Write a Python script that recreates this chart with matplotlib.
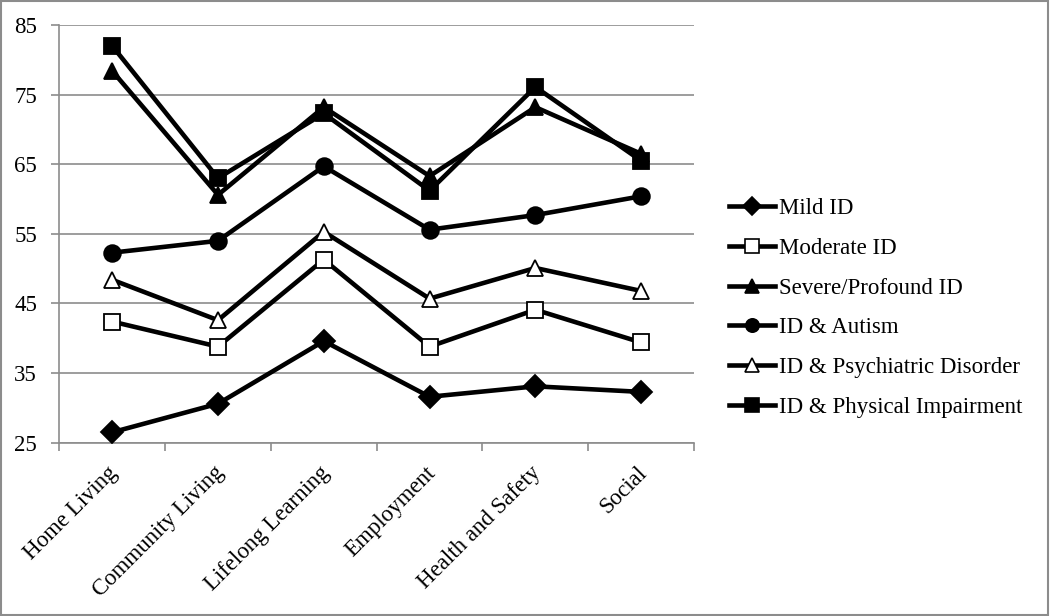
import matplotlib
matplotlib.use("Agg")
import matplotlib.pyplot as plt
from matplotlib.patches import Rectangle
import matplotlib.transforms as mtransforms

categories = ["Home Living", "Community Living", "Lifelong Learning", "Employment", "Health and Safety", "Social"]
mild_id = [26.5, 30.6, 39.6, 31.6, 33.1, 32.3]
moderate_id = [42.4, 38.8, 51.3, 38.8, 44.1, 39.4]
severe_profound_id = [78.4, 60.6, 73.2, 63.3, 73.2, 66.5]
id_autism = [52.3, 54.0, 64.7, 55.6, 57.7, 60.4]
id_psychiatric = [48.4, 42.6, 55.3, 45.7, 50.1, 46.8]
id_physical = [82.0, 63.0, 72.3, 61.2, 76.1, 65.5]
y_ticks = [25, 35, 45, 55, 65, 75, 85]

series = [
    ("Mild ID", mild_id, "D", "black"),
    ("Moderate ID", moderate_id, "s", "white"),
    ("Severe/Profound ID", severe_profound_id, "^", "black"),
    ("ID & Autism", id_autism, "o", "black"),
    ("ID & Psychiatric Disorder", id_psychiatric, "^", "white"),
    ("ID & Physical Impairment", id_physical, "s", "black"),
]
msizes = {"D": 11, "s": 12, "^": 12, "o": 12}

plt.rcParams['font.family'] = ['Liberation Serif', 'DejaVu Serif']
FS = 16.5

fig = plt.figure(figsize=(10.5, 6.16), dpi=100)
ax = fig.add_axes([0.0565, 0.2813, 0.6045, 0.6781])

x = list(range(len(categories)))
for name, vals, m, fc in series:
    ax.plot(x, vals, color="black", lw=3.3, marker=m, markersize=msizes[m],
            markerfacecolor=fc, markeredgecolor="black", markeredgewidth=1.3,
            label=name, zorder=3)

ax.set_xlim(-0.5, len(categories) - 0.5)
ax.set_ylim(25, 85)
ax.set_yticks(y_ticks)
ax.set_yticklabels([str(t) for t in y_ticks], fontsize=FS)
ax.yaxis.grid(True, color="#8c8c8c", lw=1.2, zorder=0)
ax.set_axisbelow(True)

ax.set_xticks([i - 0.5 for i in range(len(categories) + 1)])
ax.set_xticklabels([])
ax.set_xticks(x, minor=True)
ax.set_xticklabels(categories, minor=True, fontsize=FS, rotation=45,
                   ha="right", va="top", rotation_mode="anchor")
ax.tick_params(axis="x", which="minor", length=0, pad=14)
ax.tick_params(axis="x", which="major", length=6, color="#8c8c8c", width=1.2)
ax.tick_params(axis="y", length=6, color="#8c8c8c", width=1.2, pad=10)
offset = mtransforms.ScaledTranslation(-5 / 100, 0, fig.dpi_scale_trans)
for lbl in ax.xaxis.get_minorticklabels():
    lbl.set_transform(lbl.get_transform() + offset)

for s in ["top", "right"]:
    ax.spines[s].set_visible(False)
for s in ["left", "bottom"]:
    ax.spines[s].set_color("#8c8c8c")
    ax.spines[s].set_linewidth(1.2)

leg_handles = []
for name, vals, m, fc in series:
    lh, = ax.plot([], [], color="black", lw=3.3, marker=m, markersize=msizes[m] * 0.8,
                  markerfacecolor=fc, markeredgecolor="black", markeredgewidth=1.2)
    leg_handles.append(lh)

leg = fig.legend(leg_handles, [s[0] for s in series], loc="center left",
                 bbox_to_anchor=(0.675, 0.5), frameon=False, fontsize=FS,
                 handlelength=2.0, labelspacing=0.82, handletextpad=0.15)

fig.patches.append(Rectangle((0.001, 0.001), 0.997, 0.997, transform=fig.transFigure,
                             fill=False, edgecolor="#8c8c8c", lw=1.5))

fig.savefig("out.png", dpi=100, facecolor="white")
